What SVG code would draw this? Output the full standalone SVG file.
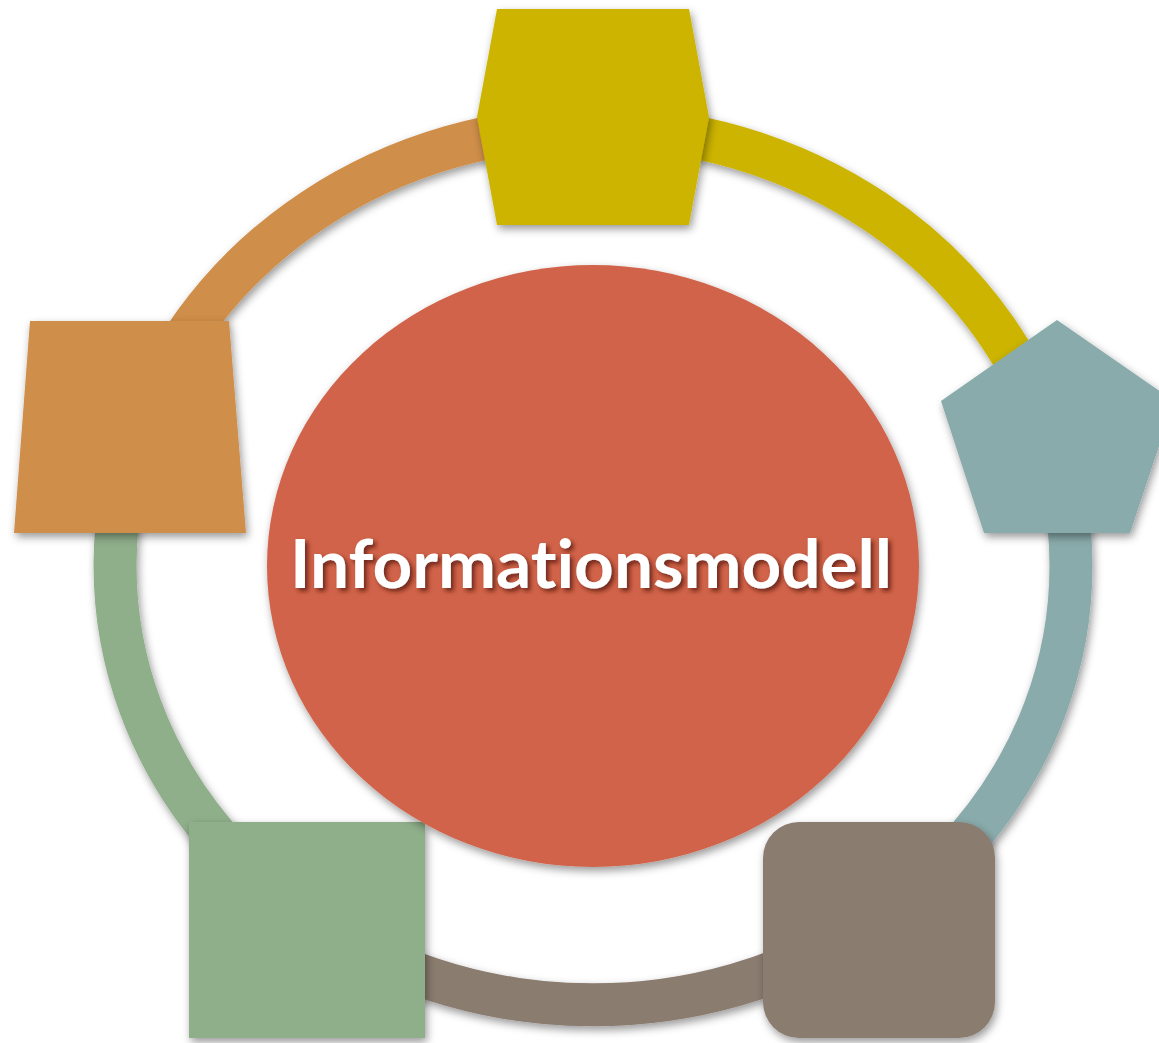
<svg xmlns="http://www.w3.org/2000/svg" width="1159" height="1043" viewBox="0 0 1159 1043">
<defs>
<filter id="sh" filterUnits="userSpaceOnUse" x="0" y="0" width="1159" height="1043">
<feDropShadow dx="2" dy="4" stdDeviation="4" flood-color="#000" flood-opacity="0.4"/>
</filter>
<filter id="tsh" filterUnits="userSpaceOnUse" x="0" y="0" width="1159" height="1043">
<feDropShadow dx="3" dy="3" stdDeviation="2" flood-color="#5a1a0a" flood-opacity="0.8"/>
</filter>
</defs>
<style>
.ring{fill:none;stroke-width:43;stroke-linecap:butt;filter:url(#sh)}
.node{filter:url(#sh)}
.label{font-family:Lato,"Open Sans","DejaVu Sans",sans-serif;font-size:66px;font-weight:bold;fill:#fff;filter:url(#tsh);font-variant-ligatures:none}
</style>
<rect width="1159" height="1043" fill="#fff"/>
<g id="connectors">
<path class="ring" stroke="#CCB400" d="M593,127 A478,439 0 0 1 1047.5,430"/>
<path class="ring" stroke="#8AABAB" d="M1047.5,430 A478,439 0 0 1 860,930"/>
<path class="ring" stroke="#8B7B70" d="M860,930 A478,439 0 0 1 326,930"/>
<path class="ring" stroke="#8FAE8A" d="M326,930 A478,439 0 0 1 139.6,427"/>
<path class="ring" stroke="#CF8E48" d="M139.6,427 A478,439 0 0 1 593,127"/>
</g>
<g id="node-hexagon"><polygon class="node" fill="#CCB400" points="497,9 689,9 709,117 689,225 497,225 477,117"/></g>
<g id="node-trapezoid"><polygon class="node" fill="#CF8E48" points="30,321 229,321 246,533 14,533"/></g>
<g id="node-pentagon"><polygon class="node" fill="#8AABAB" points="1057,320 1174,401 1130,533 984,533 941,401"/></g>
<g id="node-rounded"><rect class="node" fill="#8B7B70" x="763" y="822" width="232" height="216" rx="36" ry="36"/></g>
<g id="node-square"><rect class="node" fill="#8FAE8A" x="189" y="822" width="236" height="216"/></g>
<g id="node-center">
<ellipse class="node" fill="#D0644A" cx="593" cy="566" rx="326" ry="301"/>
<text class="label" x="591" y="588" text-anchor="middle" textLength="602" lengthAdjust="spacingAndGlyphs">Informationsmodell</text>
</g>
</svg>
